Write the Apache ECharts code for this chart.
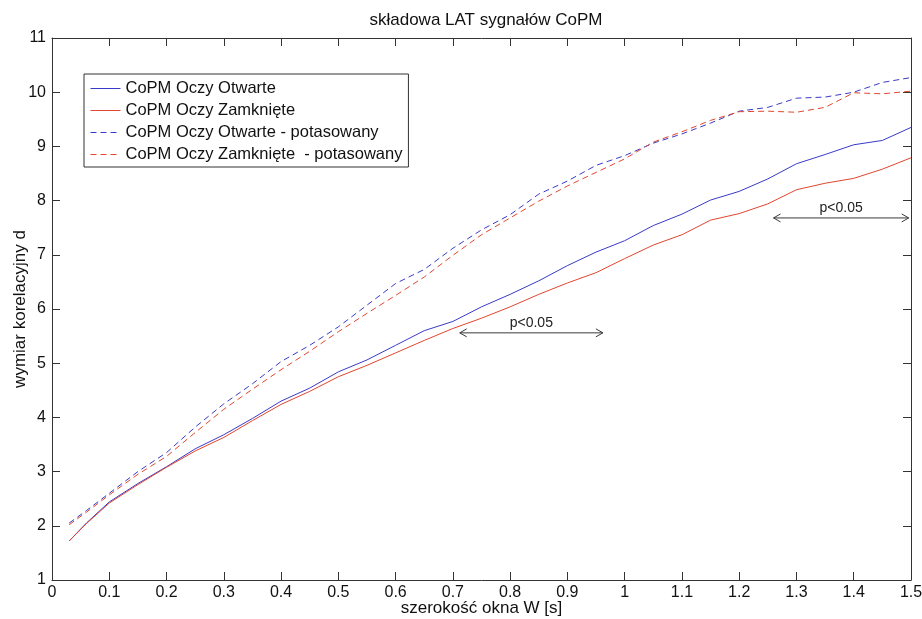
<!DOCTYPE html>
<html>
<head>
<meta charset="utf-8">
<script src="https://cdn.jsdelivr.net/npm/echarts@6/dist/echarts.min.js"></script>
<style>
  html, body { margin: 0; padding: 0; background: #ffffff; }
  #chart { width: 922px; height: 619px; }
</style>
</head>
<body>
<div id="chart"></div>
<script>
// ---- data ----
const windowW = [0.03, 0.06, 0.1, 0.15, 0.2, 0.25, 0.3, 0.35, 0.4, 0.45, 0.5, 0.55, 0.6, 0.65, 0.7, 0.75,
  0.8, 0.85, 0.9, 0.95, 1.0, 1.05, 1.1, 1.15, 1.2, 1.25, 1.3, 1.35, 1.4, 1.45, 1.5];
const openEyes = [1.72, 2.05, 2.44, 2.78, 3.09, 3.42, 3.68, 3.98, 4.30, 4.54, 4.84, 5.06, 5.33, 5.60, 5.77, 6.04,
  6.27, 6.52, 6.80, 7.05, 7.26, 7.54, 7.75, 8.01, 8.17, 8.40, 8.68, 8.85, 9.03, 9.11, 9.35];
const closedEyes = [1.72, 2.04, 2.42, 2.76, 3.08, 3.38, 3.63, 3.94, 4.24, 4.48, 4.75, 4.96, 5.19, 5.42, 5.64, 5.83,
  6.04, 6.27, 6.48, 6.67, 6.93, 7.18, 7.37, 7.64, 7.76, 7.94, 8.20, 8.32, 8.41, 8.58, 8.79];
const openShuffled = [2.05, 2.28, 2.60, 3.00, 3.35, 3.82, 4.25, 4.62, 5.03, 5.33, 5.67, 6.07, 6.47, 6.73, 7.12, 7.46,
  7.74, 8.12, 8.36, 8.65, 8.83, 9.06, 9.23, 9.43, 9.65, 9.72, 9.89, 9.91, 10.00, 10.18, 10.27];
const closedShuffled = [2.02, 2.25, 2.57, 2.95, 3.28, 3.72, 4.15, 4.52, 4.88, 5.22, 5.58, 5.92, 6.25, 6.59, 6.99, 7.37,
  7.68, 7.99, 8.27, 8.52, 8.77, 9.08, 9.27, 9.48, 9.64, 9.65, 9.63, 9.72, 9.99, 9.97, 10.02];

const seriesNames = ['CoPM Oczy Otwarte', 'CoPM Oczy Zamknięte', 'CoPM Oczy Otwarte - potasowany', 'CoPM Oczy Zamknięte  - potasowany'];

// significance annotations (x start, x end, y level, label)
const sigStart = [0.712, 1.26];
const sigEnd = [0.962, 1.496];
const sigLevel = [5.56, 7.68];
const sigLabel = ['p<0.05', 'p<0.05'];

const titleText = 'składowa LAT sygnałów CoPM';
const xName = 'szerokość okna W [s]';
const yName = 'wymiar korelacyjny d';

// ---- build ----
const BLUE = '#3a3ac8';
const RED = '#e2462e';
const FONT = '"Liberation Sans", Arial, sans-serif';

function pairs(ys) { return windowW.map((x, i) => [x, ys[i]]); }

const chart = echarts.init(document.getElementById('chart'), null, { renderer: 'canvas' });

const lineSeries = [
  { name: seriesNames[0], data: pairs(openEyes), color: BLUE, type: 'solid' },
  { name: seriesNames[1], data: pairs(closedEyes), color: RED, type: 'solid' },
  { name: seriesNames[2], data: pairs(openShuffled), color: BLUE, type: [6, 4] },
  { name: seriesNames[3], data: pairs(closedShuffled), color: RED, type: [6, 4] }
].map(s => ({
  name: s.name,
  type: 'line',
  data: s.data,
  showSymbol: false,
  symbol: 'none',
  smooth: false,
  color: s.color,
  itemStyle: { color: s.color },
  lineStyle: { color: s.color, width: 1, type: s.type },
  emphasis: { disabled: true },
  animation: false,
  z: 3
}));

const sigData = sigStart.map((x, i) => [x, sigEnd[i], sigLevel[i]]);

const annotationSeries = {
  name: 'sig',
  type: 'custom',
  data: sigData,
  animation: false,
  silent: true,
  z: 5,
  renderItem: function (params, api) {
    const p1 = api.coord([api.value(0), api.value(2)]);
    const p2 = api.coord([api.value(1), api.value(2)]);
    const c = '#3a3a3a';
    const hl = 7, hh = 4;
    return {
      type: 'group',
      children: [
        { type: 'line', shape: { x1: p1[0], y1: p1[1], x2: p2[0], y2: p2[1] }, style: { stroke: c, lineWidth: 1 } },
        { type: 'polyline', shape: { points: [[p1[0] + hl, p1[1] - hh], [p1[0], p1[1]], [p1[0] + hl, p1[1] + hh]] }, style: { stroke: c, lineWidth: 1, fill: null } },
        { type: 'polyline', shape: { points: [[p2[0] - hl, p2[1] - hh], [p2[0], p2[1]], [p2[0] - hl, p2[1] + hh]] }, style: { stroke: c, lineWidth: 1, fill: null } },
        { type: 'text', style: { text: sigLabel[params.dataIndex], x: (p1[0] + p2[0]) / 2, y: p1[1] - 10, align: 'center', verticalAlign: 'middle', font: '14px ' + FONT, fill: '#222' } }
      ]
    };
  }
};

const axisCommonX = { type: 'value', min: 0, max: 1.5, interval: 0.1 };
const axisCommonY = { type: 'value', min: 1, max: 11, interval: 1 };

const option = {
  backgroundColor: '#ffffff',
  animation: false,
  title: {
    text: titleText,
    left: 481, top: 7, textAlign: 'center',
    textStyle: { fontFamily: FONT, fontSize: 17, fontWeight: 'normal', color: '#111' }
  },
  legend: {
    orient: 'vertical',
    left: 84, top: 74,
    data: seriesNames,
    backgroundColor: '#ffffff',
    borderColor: '#333',
    borderWidth: 1,
    borderRadius: 0,
    padding: [6, 6, 4, 6],
    itemWidth: 30, itemHeight: 12, itemGap: 5,
    itemStyle: { opacity: 0 },
    lineStyle: { width: 1 },
    textStyle: { fontFamily: FONT, fontSize: 16.5, color: '#111' },
    selectedMode: false
  },
  grid: { left: 52, right: 11, top: 38, bottom: 39, show: false, containLabel: false, outerBoundsMode: 'none' },
  xAxis: [
    Object.assign({}, axisCommonX, {
      position: 'bottom',
      name: xName, nameLocation: 'middle', nameGap: 20, nameMoveOverlap: false,
      nameTextStyle: { fontFamily: FONT, fontSize: 17, color: '#111' },
      axisLine: { show: true, onZero: false, lineStyle: { color: '#333', width: 1 } },
      axisTick: { show: true, inside: true, length: 8, lineStyle: { color: '#333' } },
      axisLabel: { show: true, margin: 5, fontFamily: FONT, fontSize: 16, color: '#111' },
      splitLine: { show: false }
    }),
    Object.assign({}, axisCommonX, {
      position: 'top',
      axisLine: { show: true, onZero: false, lineStyle: { color: '#333', width: 1 } },
      axisTick: { show: true, inside: true, length: 8, lineStyle: { color: '#333' } },
      axisLabel: { show: false },
      splitLine: { show: false }
    })
  ],
  yAxis: [
    Object.assign({}, axisCommonY, {
      position: 'left',
      name: yName, nameLocation: 'middle', nameGap: 23, nameRotate: 90, nameMoveOverlap: false,
      nameTextStyle: { fontFamily: FONT, fontSize: 17, color: '#111' },
      axisLine: { show: true, onZero: false, lineStyle: { color: '#333', width: 1 } },
      axisTick: { show: true, inside: true, length: 8, lineStyle: { color: '#333' } },
      axisLabel: { show: true, margin: 6, fontFamily: FONT, fontSize: 16, color: '#111' },
      splitLine: { show: false }
    }),
    Object.assign({}, axisCommonY, {
      position: 'right',
      axisLine: { show: true, onZero: false, lineStyle: { color: '#333', width: 1 } },
      axisTick: { show: true, inside: true, length: 8, lineStyle: { color: '#333' } },
      axisLabel: { show: false },
      splitLine: { show: false }
    })
  ],
  series: lineSeries.concat([annotationSeries])
};

chart.setOption(option);
</script>
</body>
</html>
